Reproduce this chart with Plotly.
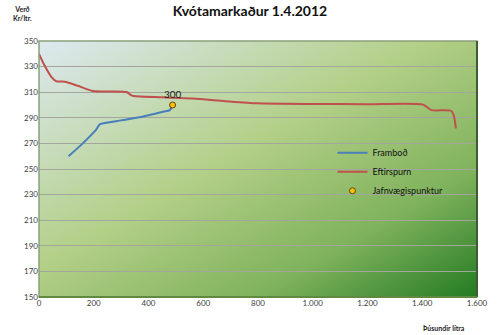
import plotly.graph_objects as go
import base64

# ---- data ----
supply_x = [108, 160, 208, 223, 300, 380, 454, 478, 488]
supply_y = [260, 270, 280.5, 285, 288, 291, 294.8, 296, 300]

demand_x = [0, 20, 45, 64, 94, 142, 196, 260, 322, 334, 346, 450, 562, 680, 796, 1000, 1200, 1403, 1433, 1505, 1515, 1523]
demand_y = [340, 331, 322, 318.5, 318.2, 315, 311, 310.5, 310, 308, 307, 306, 305, 303, 301.3, 300.8, 300.6, 300.3, 296, 295.5, 292, 281.8]

eq_x = [488]
eq_y = [300]
eq_label = ["300"]

y_ticks = [150, 170, 190, 210, 230, 250, 270, 290, 310, 330, 350]
x_ticks = [0, 200, 400, 600, 800, 1000, 1200, 1400, 1600]

FONT = "Lato"

svg = """<svg xmlns='http://www.w3.org/2000/svg' width='444' height='256' preserveAspectRatio='none'>
<defs><linearGradient id='g' x1='0' y1='0' x2='1' y2='1'>
<stop offset='0' stop-color='#dde9f1'/>
<stop offset='0.45' stop-color='#b2cf86'/>
<stop offset='0.75' stop-color='#7fb25c'/>
<stop offset='1' stop-color='#237b22'/>
</linearGradient></defs>
<rect width='444' height='256' fill='url(#g)'/></svg>"""
bg = "data:image/svg+xml;base64," + base64.b64encode(svg.encode()).decode()

fig = go.Figure()
fig.add_trace(go.Scatter(x=supply_x, y=supply_y, mode="lines", name="Framboð",
                         line=dict(color="#4a7ebb", width=2, shape="spline", smoothing=0.6)))
fig.add_trace(go.Scatter(x=demand_x, y=demand_y, mode="lines", name="Eftirspurn",
                         line=dict(color="#c0504d", width=2, shape="spline", smoothing=0.6)))
fig.add_trace(go.Scatter(x=eq_x, y=eq_y, mode="markers+text", name="Jafnvægispunktur",
                         text=eq_label, textposition="top center",
                         textfont=dict(family=FONT, size=10, color="#222222"),
                         marker=dict(color="#ffc000", size=6, line=dict(color="#5a4a10", width=1))))

fig.update_layout(
    width=500, height=335,
    margin=dict(l=39, r=17, t=41, b=38),
    paper_bgcolor="white",
    plot_bgcolor="rgba(0,0,0,0)",
    separators=",.",
    font=dict(family=FONT, size=8, color="#404040"),
    title=dict(text="<b>Kvótamarkaður 1.4.2012</b>", x=0.5, xanchor="center", y=0.968, yanchor="middle",
               font=dict(family=FONT, size=14, color="#111111")),
    showlegend=True,
    legend=dict(x=0.67, y=0.62, xanchor="left", yanchor="top", bgcolor="rgba(0,0,0,0)",
                font=dict(family=FONT, size=9, color="#111111"), itemwidth=30, tracegroupgap=0),
    images=[dict(source=bg, xref="paper", yref="paper", x=0, y=1, sizex=1, sizey=1,
                 xanchor="left", yanchor="top", sizing="stretch", layer="below")],
    shapes=[
        dict(type="rect", xref="paper", yref="paper", x0=0, y0=0, x1=1, y1=1,
             line=dict(color="#8aa07a", width=1.5)),
        dict(type="line", xref="paper", yref="paper", x0=1, y0=0, x1=1, y1=1,
             line=dict(color="#3d5e30", width=2)),
        dict(type="line", xref="paper", yref="paper", x0=0, y0=0, x1=1, y1=0,
             line=dict(color="#5f8a40", width=2)),
    ],
    annotations=[
        dict(text="<b>Verð<br>Kr/ltr.</b>", xref="paper", yref="paper", x=-0.038, y=1.107,
             xanchor="center", yanchor="middle", showarrow=False, align="center",
             font=dict(family=FONT, size=7, color="#222222")),
        dict(text="<b>Þúsundir lítra</b>", xref="paper", yref="paper", x=0.978, y=-0.12,
             xanchor="right", yanchor="middle", showarrow=False,
             font=dict(family=FONT, size=7, color="#222222")),
    ],
)
fig.update_xaxes(range=[0, 1600], tickvals=x_ticks, tickformat=",d", showgrid=False, zeroline=False,
                 showline=False, ticks="", ticklen=3, tickcolor="#888888")
fig.update_yaxes(range=[150, 350], tickvals=y_ticks, showgrid=True, gridcolor="#a3a69c", gridwidth=1,
                 zeroline=False, showline=False, ticks="")

fig.write_html("out.html")
